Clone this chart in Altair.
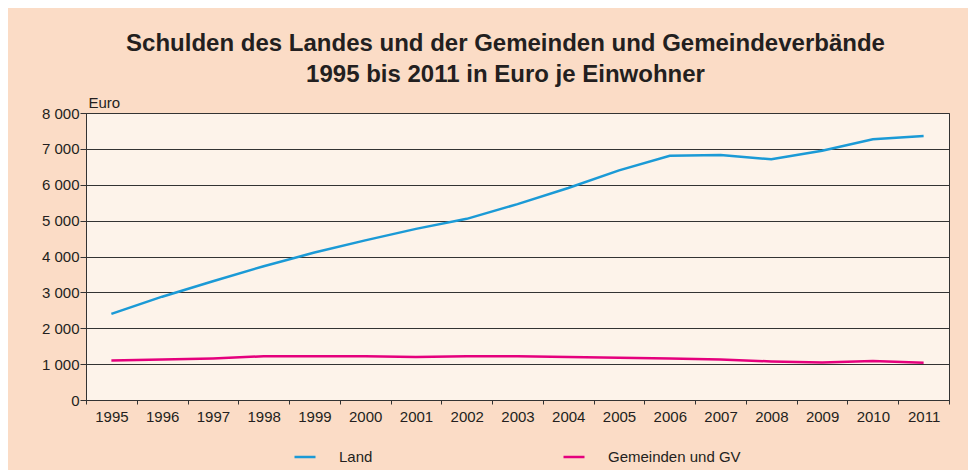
import altair as alt
import pandas as pd

years = [str(y) for y in range(1995, 2012)]
land = [2400, 2880, 3310, 3730, 4110, 4450, 4770, 5050, 5460, 5910, 6400, 6810, 6830, 6710, 6950, 7270, 7360]
gemeinden = [1100, 1130, 1160, 1220, 1220, 1220, 1200, 1220, 1220, 1200, 1180, 1160, 1130, 1075, 1045, 1085, 1040]
series_names = ["Land", "Gemeinden und GV"]
colors = ["#1B9AD6", "#E5007D"]

rows = []
for i, y in enumerate(years):
    rows.append({"Jahr": y, "Wert": land[i], "Reihe": series_names[0]})
    rows.append({"Jahr": y, "Wert": gemeinden[i], "Reihe": series_names[1]})
df = pd.DataFrame(rows)

txt = "#231F20"
font = "Liberation Sans"

chart = alt.Chart(df).mark_line(strokeWidth=2.5).encode(
    x=alt.X("Jahr:O", sort=years, scale=alt.Scale(paddingInner=0, paddingOuter=0),
            axis=alt.Axis(title=None, labelAngle=0, labelFontSize=15, labelColor=txt,
                          labelFont=font, tickBand="extent", tickSize=4,
                          tickColor="#333", domainColor="#333", labelPadding=5, grid=False)),
    y=alt.Y("Wert:Q", scale=alt.Scale(domain=[0, 8000], nice=False),
            axis=alt.Axis(values=list(range(0, 8001, 1000)),
                          labelExpr="replace(format(datum.value, ','), ',', ' ')",
                          title="Euro", titleAngle=0, titleAlign="left", titleBaseline="bottom",
                          titleX=2, titleY=-3, titleFontSize=15, titleFontWeight="normal",
                          titleFont=font, titleColor=txt,
                          labelFontSize=15, labelColor=txt, labelFont=font,
                          tickSize=6, tickColor="#333", domainColor="#333", labelPadding=1,
                          grid=True, gridColor="#333", gridWidth=1)),
    color=alt.Color("Reihe:N", sort=series_names,
                    scale=alt.Scale(domain=series_names, range=colors),
                    legend=alt.Legend(title=None, orient="none", direction="horizontal",
                                      legendX=207, legendY=332, symbolType="stroke",
                                      symbolSize=441, symbolStrokeWidth=2.5, labelOffset=22,
                                      columnPadding=185, labelFontSize=15, labelColor=txt,
                                      labelFont=font)),
).properties(
    width=863,
    height=287,
    title=alt.TitleParams(
        text=["Schulden des Landes und der Gemeinden und Gemeindeverbände",
              "1995 bis 2011 in Euro je Einwohner"],
        fontSize=24, font=font, fontWeight="bold", color=txt,
        anchor="middle", dx=-12, offset=8, lineHeight=31),
    background="#FBDCC6",
    autosize=alt.AutoSizeParams(type="none"),
    padding={"left": 78, "top": 105, "right": 19, "bottom": 70},
).configure_view(fill="#FDF3EA", stroke="#333", strokeWidth=1)

chart.save("out.html", embed_options={"renderer": "svg", "actions": False})
